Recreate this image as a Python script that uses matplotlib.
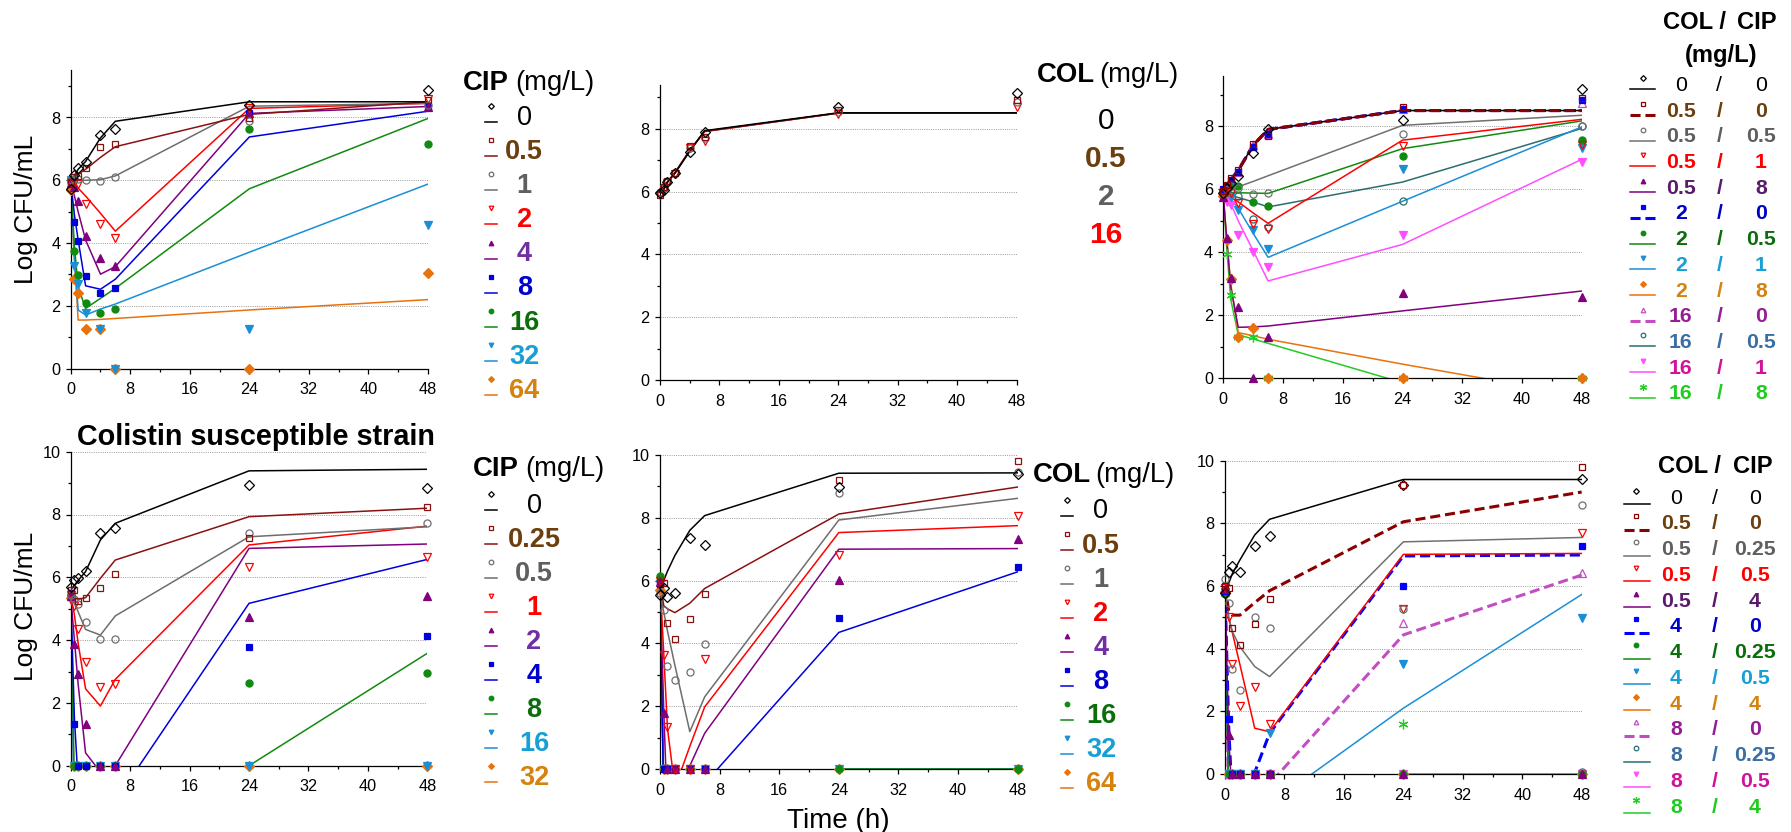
import numpy as np
import matplotlib
matplotlib.use("Agg")
import matplotlib.pyplot as plt
from matplotlib.lines import Line2D
from matplotlib import font_manager as fm

W, H, DPI = 1791, 832, 100
plt.rcParams["font.family"] = ["Liberation Sans", "DejaVu Sans"]

# ------------------------------------------------------------------ data
TIME_H = [0, 0.5, 1, 2, 4, 6, 24, 48]

# Colistin-resistant strain, ciprofloxacin alone
CIP_R_LABELS = ["0", "0.5", "1", "2", "4", "8", "16", "32", "64"]
CIP_R_OBS = [
    [5.71, 6.16, 6.40, 6.57, 7.44, 7.63, 8.41, 8.89],
    [5.95, 6.10, 6.15, 6.40, 7.05, 7.15, 7.97, 8.57],
    [6.00, 6.05, 6.05, 6.00, 5.97, 6.11, 7.89, 8.40],
    [5.95, 5.90, 5.88, 5.24, 4.60, 4.15, 8.30, 8.60],
    [5.90, 5.80, 5.35, 4.23, 3.54, 3.28, 8.15, 8.35],
    [5.95, 4.68, 4.07, 2.95, 2.40, 2.56, 8.13, 8.34],
    [5.95, 3.75, 2.98, 2.08, 1.78, 1.90, 7.62, 7.15],
    [6.00, 3.27, 2.70, 1.76, 1.28, 0.00, 1.28, 4.59],
    [5.70, 2.85, 2.40, 1.28, 1.28, 0.00, 0.00, 3.06],
]
CIP_R_FIT = [
    [5.90, 6.15, 6.35, 6.60, 7.35, 7.88, 8.50, 8.50],
    [5.95, 6.05, 6.20, 6.35, 6.73, 7.07, 8.10, 8.50],
    [6.00, 6.00, 6.00, 6.00, 6.02, 6.14, 8.36, 8.45],
    [5.95, 5.85, 5.75, 5.50, 4.95, 4.38, 8.29, 8.45],
    [5.90, 5.50, 5.00, 4.10, 3.01, 3.25, 8.13, 8.35],
    [5.95, 4.90, 4.10, 2.64, 2.53, 2.85, 7.38, 8.20],
    [5.95, 3.90, 2.60, 1.92, 2.24, 2.56, 5.73, 7.97],
    [6.00, 3.50, 1.87, 1.71, 1.90, 2.06, 3.71, 5.88],
    [5.70, 3.50, 1.55, 1.55, 1.57, 1.60, 1.87, 2.20],
]

# Colistin-resistant strain, colistin alone
COL_R_LABELS = ["0", "0.5", "2", "16"]
COL_R_OBS = [
    [5.95, 6.05, 6.30, 6.60, 7.25, 7.90, 8.68, 9.15],
    [5.88, 6.15, 6.35, 6.60, 7.45, 7.75, 8.60, 8.92],
    [6.00, 6.10, 6.30, 6.58, 7.40, 7.72, 8.55, 8.85],
    [5.90, 6.08, 6.28, 6.55, 7.38, 7.62, 8.48, 8.70],
]
COL_R_FIT = [
    [5.95, 6.07, 6.30, 6.58, 7.28, 7.94, 8.51, 8.51],
    [5.95, 6.08, 6.31, 6.60, 7.32, 7.92, 8.50, 8.50],
    [5.96, 6.08, 6.30, 6.59, 7.30, 7.92, 8.50, 8.50],
    [5.95, 6.07, 6.30, 6.59, 7.30, 7.91, 8.50, 8.50],
]

# Colistin-resistant strain, combinations (COL / CIP, mg/L)
COMBO_R_COL = ["0", "0.5", "0.5", "0.5", "0.5", "2", "2", "2", "2", "16", "16", "16", "16"]
COMBO_R_CIP = ["0", "0", "0.5", "1", "8", "0", "0.5", "1", "8", "0", "0.5", "1", "8"]
COMBO_R_OBS = [
    [5.89, 6.05, 6.20, 6.43, 7.14, 7.93, 8.21, 9.20],
    [5.95, 6.15, 6.35, 6.60, 7.45, 7.70, 8.60, 8.90],
    [5.90, 6.00, 6.10, 6.05, 5.85, 5.89, 7.77, 8.00],
    [5.85, 5.90, 5.87, 5.58, 4.89, 4.73, 7.38, 7.40],
    [5.75, 4.44, 3.17, 2.27, 0.00, 1.32, 2.72, 2.59],
    [6.00, 6.10, 6.30, 6.55, 7.35, 7.75, 8.55, 8.85],
    [5.85, 6.05, 6.10, 6.10, 5.60, 5.47, 7.06, 7.56],
    [5.85, 5.90, 5.75, 5.34, 4.70, 4.12, 6.63, 7.30],
    [5.80, 4.39, 3.15, 1.30, 1.61, 0.00, 0.00, 0.00],
    [5.90, 6.10, 6.30, 6.55, 7.40, 7.77, 8.55, 8.74],
    [5.90, 5.95, 5.90, 5.78, 5.05, 4.81, 5.62, 8.00],
    [5.80, 5.60, 5.50, 4.55, 4.00, 3.52, 4.55, 6.87],
    [5.90, 3.96, 2.64, 1.30, 1.30, 0.00, 0.00, 0.00],
]
COMBO_R_FIT = [
    [5.90, 6.10, 6.30, 6.60, 7.40, 7.90, 8.50, 8.50],
    [5.95, 6.10, 6.30, 6.60, 7.40, 7.90, 8.50, 8.50],
    [5.90, 6.00, 6.05, 6.08, 6.25, 6.43, 8.03, 8.35],
    [5.90, 5.85, 5.75, 5.60, 5.25, 4.92, 7.56, 8.22],
    [5.80, 4.30, 2.90, 1.62, 1.63, 1.66, 2.14, 2.77],
    [6.00, 6.10, 6.30, 6.60, 7.40, 7.90, 8.50, 8.50],
    [5.85, 5.90, 5.90, 5.89, 5.88, 5.87, 7.29, 8.17],
    [5.85, 5.80, 5.70, 5.40, 4.60, 3.84, 5.62, 7.98],
    [5.80, 4.30, 3.00, 1.45, 1.35, 1.24, 0.45, -0.55],
    [5.90, 6.10, 6.30, 6.60, 7.40, 7.90, 8.50, 8.50],
    [5.90, 5.85, 5.80, 5.74, 5.60, 5.44, 6.23, 7.93],
    [5.85, 5.75, 5.55, 5.00, 4.05, 3.09, 4.25, 6.95],
    [5.90, 4.00, 2.50, 1.38, 1.25, 1.11, -0.14, -0.20],
]

# Colistin-susceptible strain, ciprofloxacin alone
CIP_S_LABELS = ["0", "0.25", "0.5", "1", "2", "4", "8", "16", "32"]
CIP_S_OBS = [
    [5.70, 5.91, 5.97, 6.20, 7.40, 7.56, 8.94, 8.83],
    [5.60, 5.60, 5.25, 5.35, 5.67, 6.09, 7.26, 8.25],
    [5.45, 5.30, 5.14, 4.59, 4.02, 4.03, 7.40, 7.74],
    [5.45, 5.10, 4.35, 3.29, 2.52, 2.59, 6.34, 6.66],
    [5.40, 3.87, 2.92, 1.33, 0.00, 0.00, 4.75, 5.40],
    [5.50, 1.32, 0.00, 0.00, 0.00, 0.00, 3.77, 4.14],
    [5.40, 0.00, 0.00, 0.00, 0.00, 0.00, 2.62, 2.96],
    [5.35, 0.00, 0.00, 0.00, 0.00, 0.00, 0.00, 0.00],
    [5.35, 0.00, 0.00, 0.00, 0.00, 0.00, 0.00, 0.00],
]
CIP_S_FIT = [
    [5.60, 5.75, 5.90, 6.18, 7.19, 7.72, 9.39, 9.44],
    [5.55, 5.35, 5.30, 5.35, 5.97, 6.55, 7.93, 8.20],
    [5.45, 5.20, 4.90, 4.34, 4.16, 4.77, 7.29, 7.61],
    [5.45, 4.80, 3.90, 2.45, 1.90, 2.75, 7.03, 7.63],
    [5.40, 4.00, 2.60, 0.41, -0.20, 0.00, 6.92, 7.06],
    [5.50, 1.50, -0.50, -1.00, -1.20, -1.13, 5.17, 6.57],
    [5.40, -0.50, -1.00, -1.00, -1.00, -1.00, 0.00, 3.58],
    [5.35, -2.00, -3.00, -3.00, -3.00, -3.00, -3.00, -3.00],
    [5.35, -2.00, -3.00, -3.00, -3.00, -3.00, -3.00, -3.00],
]

# Colistin-susceptible strain, colistin alone
COL_S_LABELS = ["0", "0.5", "1", "2", "4", "8", "16", "32", "64"]
COL_S_OBS = [
    [5.54, 5.75, 5.47, 5.60, 7.35, 7.13, 8.99, 9.41],
    [5.97, 5.91, 4.66, 4.14, 4.78, 5.58, 9.20, 9.82],
    [5.60, 5.06, 3.29, 2.83, 3.08, 3.98, 8.80, 9.47],
    [6.00, 3.63, 1.33, 0.00, 0.00, 3.49, 6.82, 8.06],
    [5.95, 1.79, 0.00, 0.00, 0.00, 0.00, 6.02, 7.31],
    [5.90, 0.00, 0.00, 0.00, 0.00, 0.00, 4.80, 6.42],
    [6.15, 0.00, 0.00, 0.00, 0.00, 0.00, 0.00, 0.00],
    [5.90, 0.00, 0.00, 0.00, 0.00, 0.00, 0.00, 0.00],
    [5.70, 0.00, 0.00, 0.00, 0.00, 0.00, 0.00, 0.00],
]
COL_S_FIT = [
    [5.50, 6.00, 6.30, 6.80, 7.60, 8.07, 9.42, 9.43],
    [6.00, 5.20, 5.10, 4.98, 5.28, 5.75, 8.12, 8.98],
    [5.60, 5.00, 4.40, 3.30, 1.19, 2.30, 7.93, 8.62],
    [6.00, 3.70, 1.30, -0.60, 0.72, 1.98, 7.53, 7.75],
    [5.95, 1.90, -1.50, -3.00, 0.10, 1.14, 7.00, 7.02],
    [5.90, -1.00, -2.00, -2.00, -1.00, -0.46, 4.35, 6.28],
    [6.15, -1.00, -1.00, -1.00, -1.00, -1.00, 0.00, 0.00],
    [5.90, -1.00, -1.00, -1.00, -1.00, -1.00, 0.00, 0.00],
    [5.70, -1.00, -1.00, -1.00, -1.00, -1.00, -1.00, -1.00],
]

# Colistin-susceptible strain, combinations (COL / CIP, mg/L)
COMBO_S_COL = ["0", "0.5", "0.5", "0.5", "0.5", "4", "4", "4", "4", "8", "8", "8", "8"]
COMBO_S_CIP = ["0", "0", "0.25", "0.5", "4", "0", "0.25", "0.5", "4", "0", "0.25", "0.5", "4"]
COMBO_S_OBS = [
    [5.77, 6.44, 6.65, 6.44, 7.28, 7.60, 9.24, 9.40],
    [6.00, 5.93, 4.67, 4.12, 4.78, 5.57, 9.22, 9.81],
    [6.21, 5.45, 3.34, 2.68, 5.00, 4.65, 5.27, 8.59],
    [5.95, 5.00, 3.50, 2.18, 2.79, 1.59, 5.26, 7.70],
    [5.90, 1.24, 0.00, 0.00, 0.00, 0.00, 0.00, 0.00],
    [5.85, 1.76, 0.00, 0.00, 0.00, 0.00, 6.00, 7.28],
    [5.75, 0.00, 0.00, 0.00, 0.00, 0.00, 0.00, 0.00],
    [5.80, 0.00, 0.00, 0.00, 0.00, 1.30, 3.51, 4.97],
    [5.80, 0.00, 0.00, 0.00, 0.00, 0.00, 0.00, 0.00],
    [5.80, 0.00, 0.00, 0.00, 0.00, 0.00, 4.81, 6.43],
    [5.80, 0.00, 0.00, 0.00, 0.00, 0.00, 0.00, 0.05],
    [5.80, 0.00, 0.00, 0.00, 0.00, 0.00, 0.00, 0.00],
    [5.80, 0.00, 0.00, 0.00, 0.00, 0.00, 1.60, 0.00],
]
COMBO_S_FIT = [
    [5.80, 6.09, 6.40, 6.83, 7.63, 8.13, 9.40, 9.40],
    [6.00, 5.20, 5.07, 5.07, 5.47, 5.85, 8.05, 9.00],
    [6.00, 5.00, 4.54, 4.06, 3.43, 3.11, 7.41, 7.55],
    [5.95, 4.97, 4.50, 3.50, 1.46, 1.35, 7.01, 7.04],
    [5.90, 1.20, -1.00, -1.00, -1.00, -1.00, -1.00, -1.00],
    [5.85, 1.50, -1.00, -1.00, 0.05, 1.30, 6.96, 6.99],
    [5.75, -1.00, -1.00, -1.00, -1.00, -1.00, -1.00, -1.00],
    [5.80, -1.00, -1.00, -1.00, -1.00, -0.97, 2.10, 5.73],
    [5.80, -1.00, -1.00, -1.00, -1.00, -1.00, -1.00, -1.00],
    [5.80, -1.00, -1.00, -1.00, -1.00, -0.32, 4.44, 6.35],
    [5.80, -1.00, -1.00, -1.00, -1.00, -1.00, -1.00, -1.00],
    [5.80, -1.00, -1.00, -1.00, -1.00, -1.00, -1.00, -1.00],
    [5.80, -1.00, -1.00, -1.00, -1.00, -1.00, 0.00, 0.00],
]

# ------------------------------------------------------------------ styles
ASTER = (6, 2, 0)
SINGLE_LINE = ["#000000", "#8B1010", "#6E6E6E", "#FF0000", "#800080",
               "#0000DD", "#108A10", "#1A8FD6", "#E8720C"]
SINGLE_MARK = ["D", "s", "o", "v", "^", "s", "o", "v", "D"]
SINGLE_FILL = [False, False, False, False, True, True, True, True, True]
SINGLE_TXT = ["#000000", "#6B3F0E", "#5F5F5F", "#FF0000", "#7030A0",
              "#0000CC", "#0B6E0B", "#17A0D5", "#D5820F"]
COL_R_IDX = [0, 1, 2, 3]

COMBO_LINE = ["#000000", "#8B0000", "#707070", "#FF0000", "#800080", "#0000FF",
              "#108A10", "#1A8FD6", "#E8720C", "#C44DC4", "#2A6E6E", "#FF4DFF", "#22CC22"]
COMBO_MARK = ["D", "s", "o", "v", "^", "s", "o", "v", "D", "^", "o", "v", ASTER]
COMBO_FILL = [False, False, False, False, True, True, True, True, True,
              False, False, True, True]
COMBO_DASH = [False, True, False, False, False, True, False, False, False,
              True, False, False, False]
COMBO_TXT = ["#000000", "#6B3F0E", "#5F5F5F", "#FF0000", "#5B1A6B", "#0000CC",
             "#0B6E0B", "#17A0D5", "#D5820F", "#941F94", "#3A6EA5", "#D0139A", "#1FCC1F"]

MS = {"D": 4.6, "s": 4.8, "o": 5.1, "v": 5.5, "^": 5.5}
DASH = (0, (3.3, 1.6))


def has_family(name):
    try:
        fm.findfont(fm.FontProperties(family=name), fallback_to_default=False)
        return True
    except Exception:
        return False


if has_family("Liberation Sans Narrow"):
    NARROW, NSCALE = "Liberation Sans Narrow", 1.0
else:
    NARROW, NSCALE = "Liberation Sans", 0.9

fig = plt.figure(figsize=(W / DPI, H / DPI), dpi=DPI)


def fx(px):
    return px / W


def fy(py):
    return 1 - py / H


def make_axes(left, right, y0, ymax, unit, top_row):
    top = y0 - ymax * unit
    ax = fig.add_axes([fx(left), fy(y0), (right - left) / W, (y0 - top) / H])
    ax.patch.set_alpha(0)
    ax.set_xlim(0, 48)
    ax.set_ylim(0, ymax)
    ax.set_xticks(range(0, 49, 8))
    ax.set_xticks(range(4, 48, 8), minor=True)
    major = [0, 2, 4, 6, 8] if top_row else [0, 2, 4, 6, 8, 10]
    ax.set_yticks(major)
    ax.set_yticks([1, 3, 5, 7, 9], minor=True)
    for s in ("top", "right"):
        ax.spines[s].set_visible(False)
    for s in ("left", "bottom"):
        ax.spines[s].set_linewidth(0.9)
    for g in major[1:]:
        ax.axhline(g, color="#9a9a9a", lw=0.7, ls=(0, (1, 1.3)), zorder=0.5)
    ax.tick_params(which="major", direction="out", length=3.5, width=0.9,
                   labelsize=11.7)
    ax.tick_params(axis="x", which="major", pad=6.3)
    ax.tick_params(axis="y", which="major", pad=4.0)
    ax.tick_params(which="minor", direction="out", length=2.2, width=0.9)
    return ax


def draw(ax, obs, fit, color, marker, filled, dashed, z):
    ax.plot(TIME_H, fit, color=color, lw=2.2 if dashed else 1.1,
            ls=DASH if dashed else "-", zorder=2 + z, clip_on=True)
    ms = 7.0 if marker == ASTER else MS[marker]
    ax.plot(TIME_H, obs, ls="none", marker=marker, ms=ms, mec=color,
            mfc=color if filled else "none", mew=0.9, zorder=5 + z, clip_on=False)


def glyph(xm, ym, yl, x0, x1, color, marker, filled, dashed, ms=3.3):
    fig.add_artist(Line2D([fx(x0), fx(x1)], [fy(yl), fy(yl)], color=color,
                          lw=2.2 if dashed else 1.1, ls=DASH if dashed else "-",
                          transform=fig.transFigure))
    m = 5.0 if marker == ASTER else (2.9 if marker == "D" else ms)
    fig.add_artist(Line2D([fx(xm)], [fy(ym)], marker=marker, ms=m, ls="none",
                          mec=color, mfc=color if filled else "none", mew=0.9,
                          transform=fig.transFigure))


def label(x, yc, s, size, color, bold=True, family="Liberation Sans", ha="center"):
    em = size / 0.72
    fig.text(fx(x), fy(yc + 0.358 * em), s, ha=ha, va="baseline", fontsize=size,
             color=color, fontweight="bold" if bold else "normal", family=family)


def header(x_bold, x_reg, base, bold_txt, size=22):
    fig.text(fx(x_bold), fy(base), bold_txt, ha="left", va="baseline",
             fontsize=size * NSCALE, fontweight="bold", family=NARROW)
    fig.text(fx(x_reg), fy(base), "(mg/L)", ha="left", va="baseline",
             fontsize=size * NSCALE, family=NARROW)


def single_legend(xm, xlab, y0, dy, labels, idx=None, with_glyph=True, size=19.5):
    for k, lab in enumerate(labels):
        i = idx[k] if idx is not None else k
        yc = y0 + k * dy
        if with_glyph:
            glyph(xm, yc - 9, yc + 7, xm - 6, xm + 6, SINGLE_LINE[i],
                  SINGLE_MARK[i], SINGLE_FILL[i], False)
        label(xlab, yc, lab, size, SINGLE_TXT[i], bold=(k != 0))


def combo_legend(xm, x0, x1, dm, dl, xcol, xsl, xcip, y0, dy, cols, cips):
    for k in range(len(cols)):
        yc = y0 + k * dy
        glyph(xm, yc + dm, yc + dl, x0, x1, COMBO_LINE[k], COMBO_MARK[k],
              COMBO_FILL[k], COMBO_DASH[k])
        b = k != 0
        c = COMBO_TXT[k]
        size = 17 * NSCALE
        label(xcol, yc, cols[k], size, c, bold=b, family=NARROW)
        label(xsl, yc, "/", size, c, bold=b, family=NARROW)
        label(xcip, yc, cips[k], size, c, bold=b, family=NARROW)


# ------------------------------------------------------------------ panels
axA = make_axes(70.7, 428.0, 368.7, 9.5, 31.4, True)
axB = make_axes(660.0, 1016.5, 380.0, 9.4, 31.4, True)
axC = make_axes(1223.3, 1581.7, 378.3, 9.6, 31.5, True)
axD = make_axes(70.7, 427.3, 765.7, 10, 31.4, False)
axE = make_axes(660.0, 1017.7, 769.0, 10, 31.4, False)
axF = make_axes(1225.0, 1581.7, 774.0, 10, 31.33, False)

n = len(CIP_R_LABELS)
for i in range(n):
    draw(axA, CIP_R_OBS[i], CIP_R_FIT[i], SINGLE_LINE[i], SINGLE_MARK[i],
         SINGLE_FILL[i], False, (n - i) * 0.01)
    draw(axD, CIP_S_OBS[i], CIP_S_FIT[i], SINGLE_LINE[i], SINGLE_MARK[i],
         SINGLE_FILL[i], False, (n - i) * 0.01)
    draw(axE, COL_S_OBS[i], COL_S_FIT[i], SINGLE_LINE[i], SINGLE_MARK[i],
         SINGLE_FILL[i], False, (n - i) * 0.01)

for k, i in enumerate(COL_R_IDX):
    draw(axB, COL_R_OBS[k], COL_R_FIT[k], SINGLE_LINE[i], SINGLE_MARK[i],
         SINGLE_FILL[i], False, (4 - k) * 0.01)

m = len(COMBO_R_COL)
for i in range(m):
    z = (m - i) * 0.01
    if i == 1:
        z = 0.2
    draw(axC, COMBO_R_OBS[i], COMBO_R_FIT[i], COMBO_LINE[i], COMBO_MARK[i],
         COMBO_FILL[i], COMBO_DASH[i], z)
    draw(axF, COMBO_S_OBS[i], COMBO_S_FIT[i], COMBO_LINE[i], COMBO_MARK[i],
         COMBO_FILL[i], COMBO_DASH[i], z)

# ------------------------------------------------------------------ text
for yc in (209.0, 606.7):
    fig.text(fx(33.3), fy(yc), "Log CFU/mL", rotation=90, rotation_mode="anchor",
             ha="center", va="baseline", fontsize=19)
fig.text(fx(838), fy(828), "Time (h)", ha="center", va="baseline", fontsize=20)
fig.text(fx(256), fy(445), "Colistin susceptible strain", ha="center",
         va="baseline", fontsize=20.7, fontweight="bold")

# legends: single drugs
header(462.7, 515.0, 90.0, "CIP")
single_legend(491, 524.3, 115.0, 34.16, CIP_R_LABELS)

header(1036.7, 1099.0, 81.7, "COL")
single_legend(0, 1106, 118.2, 38.1, COL_R_LABELS, idx=COL_R_IDX,
              with_glyph=False, size=21.5)

header(472.7, 525.0, 476.0, "CIP")
single_legend(491, 534, 503.3, 33.96, CIP_S_LABELS)

header(1032.7, 1095.0, 481.7, "COL")
single_legend(1066.7, 1101, 508.8, 34.05, COL_S_LABELS)

# legends: combinations
hs = 19 * NSCALE
fig.text(fx(1663), fy(29.3), "COL /", ha="left", va="baseline", fontsize=hs,
         fontweight="bold", family=NARROW)
fig.text(fx(1737), fy(29.3), "CIP", ha="left", va="baseline", fontsize=hs,
         fontweight="bold", family=NARROW)
fig.text(fx(1720.7), fy(61.7), "(mg/L)", ha="center", va="baseline", fontsize=hs,
         fontweight="bold", family=NARROW)
combo_legend(1642.7, 1630, 1655, -5, 6, 1680.8, 1719.3, 1760.8, 83.3, 25.7,
             COMBO_R_COL, COMBO_R_CIP)

fig.text(fx(1658), fy(473.3), "COL /", ha="left", va="baseline", fontsize=hs,
         fontweight="bold", family=NARROW)
fig.text(fx(1733), fy(473.3), "CIP", ha="left", va="baseline", fontsize=hs,
         fontweight="bold", family=NARROW)
combo_legend(1636, 1624, 1650, -5.3, 8, 1676, 1715, 1755, 496.0, 25.75,
             COMBO_S_COL, COMBO_S_CIP)

fig.savefig("out.png", dpi=DPI)
